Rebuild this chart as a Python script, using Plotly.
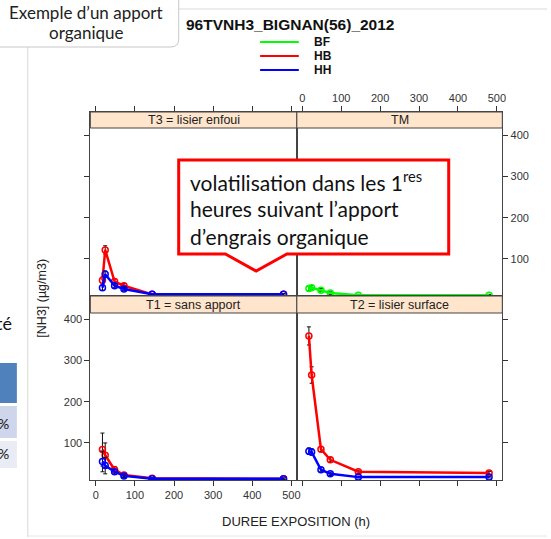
import plotly.graph_objects as go

W, H = 551, 539
def px(x): return x / W
def py(y): return 1 - y / H

# ---------------- data ----------------
hours = [17, 24, 48, 72, 144, 480]
x_ticks = [0, 100, 200, 300, 400, 500]
y_ticks = [100, 200, 300, 400]
panel_titles = ["T3 = lisier enfoui", "TM", "T1 = sans apport", "T2 = lisier surface"]
series_names = ["BF", "HB", "HH"]
series_colors = ["#00FF00", "#FF0000", "#0000FF"]

# T3 = lisier enfoui
t3_hb = [48, 122, 45, 35, 14, 14]
t3_hb_err = [8, 10, 6, 5, 2, 2]
t3_hh = [30, 63, 35, 27, 14, 14]
t3_hh_err = [6, 8, 5, 4, 2, 2]
# TM
tm_bf = [28, 30, 24, 17, 12, 12]
tm_bf_err = [6, 5, 4, 3, 2, 2]
# T1 = sans apport
t1_hb = [84, 70, 35, 22, 14, 13]
t1_hb_err = [40, 30, 8, 5, 2, 2]
t1_hh = [55, 45, 30, 20, 13, 13]
t1_hh_err = [25, 20, 6, 4, 2, 2]
# T2 = lisier surface
t2_hb = [360, 265, 85, 59, 30, 27]
t2_hb_err = [22, 20, 6, 5, 4, 4]
t2_hh = [80, 78, 35, 25, 17, 17]
t2_hh_err = [8, 8, 5, 4, 2, 2]

FONT = "Liberation Sans, Arial, sans-serif"
CF = "Lato, Noto Sans, sans-serif"
fig = go.Figure()

def add(vals, err, sname, ax):
    c = series_colors[series_names.index(sname)]
    fig.add_trace(go.Scatter(
        x=hours, y=vals, mode="lines+markers", name=sname, showlegend=False,
        line=dict(color=c, width=2.5),
        marker=dict(symbol="circle-open", size=6, color=c, line=dict(width=1.5, color=c)),
        error_y=dict(type="data", array=err, visible=True, color="#111", thickness=1, width=2),
        xaxis="x" + ax, yaxis="y" + ax))

add(t3_hb, t3_hb_err, "HB", "")
add(t3_hh, t3_hh_err, "HH", "")
add(tm_bf, tm_bf_err, "BF", "2")
add(t1_hb, t1_hb_err, "HB", "3")
add(t1_hh, t1_hh_err, "HH", "3")
add(t2_hb, t2_hb_err, "HB", "4")
add(t2_hh, t2_hh_err, "HH", "4")

colL = [px(91), px(299)]
colR = [px(299), px(506)]
rowT = [py(296), py(112)]
rowB = [py(480), py(296)]

tickfont = dict(family=FONT, size=11, color="#333")
def xa(domain, side, anchor, labels):
    return dict(domain=domain, range=[-14, 514], tickvals=x_ticks, side=side, anchor=anchor,
                showticklabels=labels, ticks="outside", ticklen=5, tickcolor="#333",
                showline=True, mirror=True, linecolor="#444", linewidth=1,
                showgrid=False, zeroline=False, tickfont=tickfont, fixedrange=True)
def ya(domain, side, anchor, labels):
    return dict(domain=domain, range=[10, 457], tickvals=y_ticks, side=side, anchor=anchor,
                showticklabels=labels, ticks="outside", ticklen=5, tickcolor="#333",
                showline=True, mirror=True, linecolor="#444", linewidth=1,
                showgrid=False, zeroline=False, tickfont=tickfont, fixedrange=True)

shapes = []
annotations = []

# strips
strip_rows = [(112, 128), (112, 128), (296, 313), (296, 313)]
strip_cols = [(91, 299), (299, 506), (91, 299), (299, 506)]
for title, (y0, y1), (x0, x1) in zip(panel_titles, strip_rows, strip_cols):
    shapes.append(dict(type="rect", xref="paper", yref="paper", x0=px(x0), x1=px(x1),
                       y0=py(y1), y1=py(y0), fillcolor="#FFE5CC", line=dict(color="#444", width=1)))
    annotations.append(dict(text=title, xref="paper", yref="paper", x=px((x0 + x1) / 2),
                            y=py((y0 + y1) / 2), showarrow=False, xanchor="center", yanchor="middle",
                            font=dict(family=FONT, size=12.5, color="#222")))

# slide decorations
LG = "#D9D9D9"
shapes += [
    dict(type="line", xref="paper", yref="paper", x0=px(28), x1=px(28), y0=py(47), y1=py(537),
         line=dict(color=LG, width=1)),
    dict(type="line", xref="paper", yref="paper", x0=px(180), x1=px(551), y0=py(9), y1=py(9),
         line=dict(color=LG, width=1)),
    dict(type="line", xref="paper", yref="paper", x0=px(28), x1=px(551), y0=py(536), y1=py(536),
         line=dict(color="#E6E6E6", width=1)),
    dict(type="path", xref="paper", yref="paper",
         path=f"M {px(-5)},{py(-5)} L {px(180)},{py(-5)} L {px(180)},{py(39)} Q {px(180)},{py(47)} {px(172)},{py(47)} "
              f"L {px(-5)},{py(47)} Z",
         fillcolor="white", line=dict(color="#C8C8C8", width=1)),
    dict(type="rect", xref="paper", yref="paper", x0=0, x1=px(17), y0=py(403), y1=py(363),
         fillcolor="#4F81BD", line=dict(width=0)),
    dict(type="rect", xref="paper", yref="paper", x0=0, x1=px(17), y0=py(438), y1=py(406),
         fillcolor="#CFD5EA", line=dict(width=0)),
    dict(type="rect", xref="paper", yref="paper", x0=0, x1=px(17), y0=py(468), y1=py(441),
         fillcolor="#E9EBF5", line=dict(width=0)),
]

# legend
for i, (n, c) in enumerate(zip(series_names, series_colors)):
    yy = 42 + 14 * i
    shapes.append(dict(type="line", xref="paper", yref="paper", x0=px(262), x1=px(301),
                       y0=py(yy), y1=py(yy), line=dict(color=c, width=2)))
    annotations.append(dict(text=f"<b>{n}</b>", xref="paper", yref="paper", x=px(314), y=py(yy),
                            showarrow=False, xanchor="left", yanchor="middle",
                            font=dict(family=FONT, size=12, color="#111")))

# callout
shapes.append(dict(type="path", xref="paper", yref="paper",
                   path=(f"M {px(180)},{py(160)} L {px(452)},{py(160)} L {px(452)},{py(254)} "
                         f"L {px(289)},{py(254)} L {px(258)},{py(271)} L {px(227)},{py(254)} "
                         f"L {px(180)},{py(254)} Z"),
                   fillcolor="white", line=dict(color="#FF0000", width=3), layer="above"))
for txt, yy in [("volatilisation dans les 1<sup>res</sup>", 181),
                ("heures suivant l’apport", 208),
                ("d’engrais organique", 236)]:
    annotations.append(dict(text=txt, xref="paper", yref="paper", x=px(189), y=py(yy),
                            showarrow=False, xanchor="left", yanchor="middle",
                            font=dict(family=CF, size=21, color="#111")))

# titles
annotations += [
    dict(text="<b>96TVNH3_BIGNAN(56)_2012</b>", xref="paper", yref="paper", x=px(292), y=py(24),
         showarrow=False, xanchor="center", yanchor="middle", font=dict(family=FONT, size=15.5, color="#111")),
    dict(text="DUREE EXPOSITION (h)", xref="paper", yref="paper", x=px(298), y=py(521),
         showarrow=False, xanchor="center", yanchor="middle", font=dict(family=FONT, size=13, color="#222")),
    dict(text="[NH3] (µg/m3)", xref="paper", yref="paper", x=px(42), y=py(298), textangle=-90,
         showarrow=False, xanchor="center", yanchor="middle", font=dict(family=FONT, size=12.5, color="#222")),
    dict(text="Exemple d’un apport", xref="paper", yref="paper", x=px(87), y=py(13),
         showarrow=False, xanchor="center", yanchor="middle", font=dict(family=CF, size=17, color="#222")),
    dict(text="organique", xref="paper", yref="paper", x=px(87), y=py(33),
         showarrow=False, xanchor="center", yanchor="middle", font=dict(family=CF, size=17, color="#222")),
    dict(text="té", xref="paper", yref="paper", x=px(14), y=py(323),
         showarrow=False, xanchor="right", yanchor="middle", font=dict(family=CF, size=18, color="#111")),
    dict(text="%", xref="paper", yref="paper", x=px(11), y=py(423),
         showarrow=False, xanchor="right", yanchor="middle", font=dict(family=CF, size=14, color="#111")),
    dict(text="%", xref="paper", yref="paper", x=px(11), y=py(453),
         showarrow=False, xanchor="right", yanchor="middle", font=dict(family=CF, size=14, color="#111")),
]

fig.update_layout(
    width=W, height=H, autosize=False,
    margin=dict(l=0, r=0, t=0, b=0),
    paper_bgcolor="white", plot_bgcolor="white",
    showlegend=False,
    xaxis=xa(colL, "top", "y", False), yaxis=ya(rowT, "left", "x", False),
    xaxis2=xa(colR, "top", "y2", True), yaxis2=ya(rowT, "right", "x2", True),
    xaxis3=xa(colL, "bottom", "y3", True), yaxis3=ya(rowB, "left", "x3", True),
    xaxis4=xa(colR, "bottom", "y4", False), yaxis4=ya(rowB, "right", "x4", False),
    shapes=shapes, annotations=annotations,
)

fig.write_html("out.html", config={"displayModeBar": False},
               post_script="document.body.style.margin='0';document.body.style.padding='0';")
